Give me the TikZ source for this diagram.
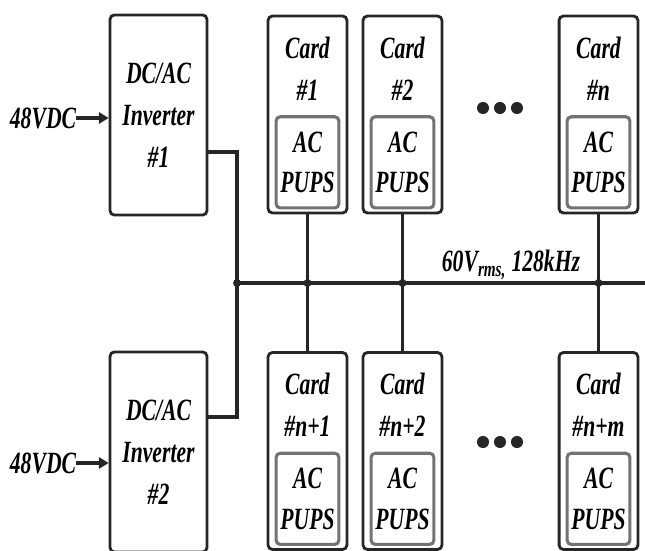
\documentclass[tikz,border=0pt]{standalone}
\usepackage{fontspec}
\setmainfont{Liberation Serif}
\newfontfamily\boxfont[FakeStretch=0.7]{Liberation Serif}
\usetikzlibrary{positioning,calc,arrows.meta}

\tikzset{
  lbl/.style={font=\boxfont\bfseries\itshape\fontsize{22}{30}\selectfont,align=center,inner sep=0pt},
  inv/.style={lbl,draw=black!85,line width=2pt,rounded corners=3pt,
    minimum width=2.42cm,minimum height=5cm},
  card/.style={draw=black!85,line width=2pt,rounded corners=3pt,
    minimum width=1.97cm,minimum height=4.92cm},
  pups/.style={lbl,draw=black!55,line width=2.2pt,rounded corners=3pt,
    minimum width=1.57cm,minimum height=2.28cm,
    font=\boxfont\bfseries\itshape\fontsize{22}{29}\selectfont},
  feed/.style={line width=3pt,draw=black!85},
  bus/.style={line width=2.6pt,draw=black!85},
  tap/.style={line width=1.5pt,draw=black!85},
  inarr/.style={line width=2.6pt,draw=black!85,-{Triangle[length=7pt,width=8pt]}},
}

\begin{document}
\begin{tikzpicture}[x=0.025cm,y=-0.025cm]

\useasboundingbox (0,0) rectangle (645,551);

% inverters
\node[inv] (inv1) at (158.5,115) {DC/AC\\Inverter\\\#1};
\node[inv] (inv2) at (158.5,452) {DC/AC\\Inverter\\\#2};

\node[lbl] (dc1) at (43,118) {48VDC};
\node[lbl] (dc2) at (43,463) {48VDC};
\draw[inarr] (dc1.east) -- (dc1.east -| inv1.west);
\draw[inarr] (dc2.east) -- (dc2.east -| inv2.west);

% cards
\foreach \nm/\x/\y/\num in {c1/307.5/114.5/1, c2/402.5/114.5/2, cn/598.5/114.5/n,
    cn1/307.5/451/n+1, cn2/402.5/451/n+2, cnm/598.5/451/n+m}{
  \node[card] (\nm) at (\x,\y) {};
  \node[lbl] (\nm-t) at ($(\nm.north)+(0,54)$) {Card\\\#\num};
  \node[pups] (\nm-p) at ($(\nm.south)+(0,-52)$) {AC\\PUPS};
}

% dots
\foreach \x in {483,500,517}{
  \fill[black!85] (\x,108) circle (4.3pt);
  \fill[black!85] (\x,442) circle (4.3pt);
}

% ac bus
\coordinate (busL) at (237,283);
\coordinate (busR) at (645,283);
\draw[bus] (busL) -- (busR);

\draw[feed] ($(inv1.east)+(0,37)$) -| (busL);
\draw[feed] ($(inv2.east)+(0,-35)$) -| (busL);

\draw[tap] (c1.south) -- (c1.south |- busL) -- (cn1.north);
\draw[tap] (c2.south) -- (c2.south |- busL) -- (cn2.north);
\draw[tap] (cn.south) -- (cn.south |- busL) -- (cnm.north);

\fill[black!85] (busL) circle (2.8pt);
\fill[black!85] (c1.south |- busL) circle (2.8pt);
\fill[black!85] (c2.south |- busL) circle (2.8pt);
\fill[black!85] (cn.south |- busL) circle (2.8pt);

\node[lbl] (buslbl) at (511,265) {60V\textsubscript{rms,} 128kHz};

\end{tikzpicture}
\end{document}
